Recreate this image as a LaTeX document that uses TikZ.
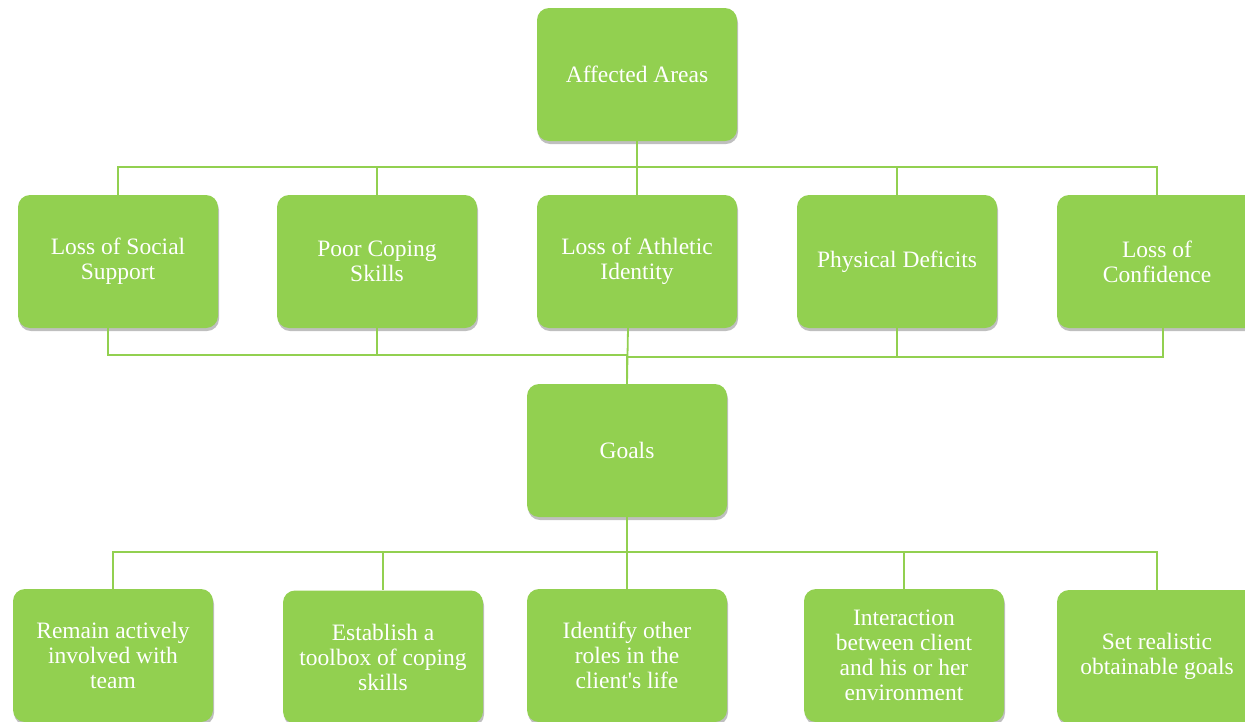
\documentclass[tikz,border=0pt]{standalone}
\usepackage{fontspec}
\setmainfont{Liberation Serif}
\usepackage{tikz}
\usetikzlibrary{shadows}
\definecolor{leafgreen}{HTML}{92D050}
\tikzset{
  areabox/.style={fill=leafgreen, rounded corners=12pt, minimum width=200pt, minimum height=133pt,
    align=center, text=white, font=\fontsize{23.5}{25}\selectfont, inner sep=4pt,
    drop shadow={shadow xshift=1pt, shadow yshift=-3pt, fill=black, opacity=0.25}},
  link/.style={draw=leafgreen, line width=1.8pt}
}
\begin{document}
\begin{tikzpicture}[x=1pt,y=-1pt]
  \useasboundingbox (0,0) rectangle (1245,721);

  % top level
  \node[areabox] (aff) at (637,74.5) {Affected Areas};

  % affected areas
  \node[areabox] (los) at (118,261.5) {Loss of Social\\Support};
  \node[areabox] (pcs) at (377,261.5) {Poor Coping\\Skills};
  \node[areabox] (lai) at (637,261.5) {Loss of Athletic\\Identity};
  \node[areabox] (phd) at (897,261.5) {Physical Deficits};
  \node[areabox] (loc) at (1157,261.5) {Loss of\\Confidence};

  \node[areabox] (goals) at (627,450.5) {Goals};

  % goals
  \node[areabox] (rem) at (113,655.5) {Remain actively\\involved with\\team};
  \node[areabox] (tbx) at (383,657) {Establish a\\toolbox of coping\\skills};
  \node[areabox] (idr) at (627,655.5) {Identify other\\roles in the\\client\textquotesingle s life};
  \node[areabox] (int) at (904,655.5) {Interaction\\between client\\and his or her\\environment};
  \node[areabox] (srg) at (1157,656.5) {Set realistic\\obtainable goals};

  \begin{scope}[on background layer/.try]
    \foreach \n in {los,pcs,lai,phd,loc}
      \draw[link] (aff.south) -- ++(0,26) -| (\n.north);
    \draw[link] ([xshift=-10pt]los.south) -- ++(0,27) -| (goals.north);
    \draw[link] (pcs.south) -- ++(0,27) -| (goals.north);
    \draw[link] ([xshift=-9pt]lai.south) -- (goals.north);
    \draw[link] (phd.south) -- ++(0,29) -| (goals.north);
    \draw[link] ([xshift=6pt]loc.south) -- ++(0,29) -| (goals.north);
    \foreach \n in {rem,tbx,idr,int,srg}
      \draw[link] (goals.south) -- ++(0,35) -| (\n.north);
  \end{scope}
\end{tikzpicture}
\end{document}
